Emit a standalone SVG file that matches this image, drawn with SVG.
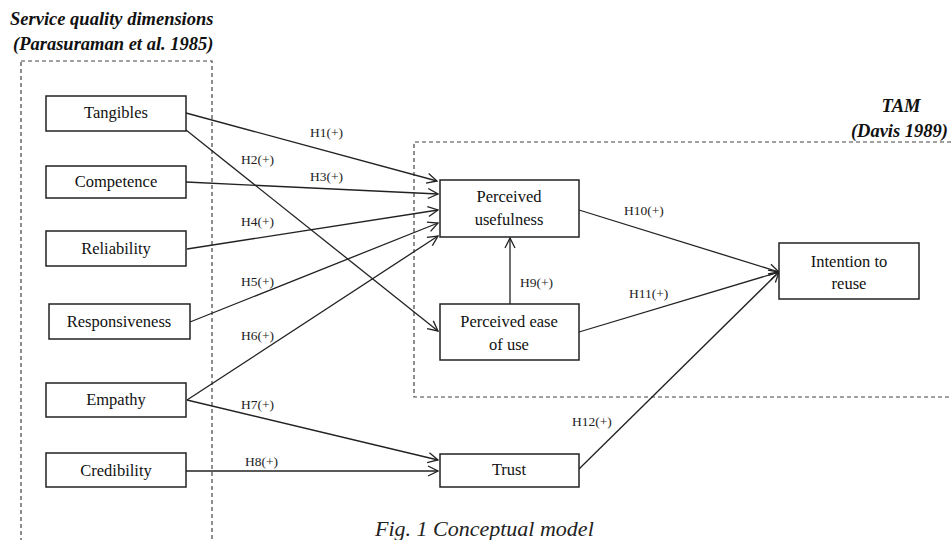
<svg xmlns="http://www.w3.org/2000/svg" width="951" height="540" viewBox="0 0 951 540">
<defs>
<style>
.bg{fill:#fff}
.grp{fill:none;stroke:#444;stroke-width:1.2;stroke-dasharray:4,3}
.box{fill:#fff;stroke:#222;stroke-width:1.5}
.t{font-family:"Liberation Serif","Times New Roman",serif;font-size:16.5px;fill:#111;text-anchor:middle}
.lbl{font-family:"Liberation Serif","Times New Roman",serif;font-size:13.5px;fill:#222}
.hd{font-family:"Liberation Serif","Times New Roman",serif;font-size:18.5px;font-weight:bold;font-style:italic;fill:#111}
.cap{font-family:"Liberation Serif","Times New Roman",serif;font-size:22px;font-style:italic;fill:#222}
.c{fill:none;stroke:#222;stroke-width:1.3;marker-end:url(#ah)}
</style>
<marker id="ah" viewBox="0 0 12 12" refX="11" refY="6" markerWidth="12" markerHeight="12" markerUnits="userSpaceOnUse" orient="auto">
<path d="M1,1 L11,6 L1,11" fill="none" stroke="#222" stroke-width="1.3"/>
</marker>
</defs>
<rect class="bg" x="0" y="0" width="951" height="540"/>

<g id="group-sq">
<rect class="grp" x="21" y="61" width="191" height="480"/>
<text class="hd" x="10" y="25">Service quality dimensions</text>
<text class="hd" x="13" y="50">(Parasuraman et al. 1985)</text>
</g>
<g id="group-tam">
<path class="grp" d="M951,142 L414,142 L414,397 L951,397"/>
<text class="hd" x="901" y="112" text-anchor="middle">TAM</text>
<text class="hd" x="948" y="137" text-anchor="end">(Davis 1989)</text>
</g>

<g id="connectors">
<line class="c" x1="186" y1="113" x2="437" y2="181"/>
<line class="c" x1="186" y1="130" x2="438" y2="331"/>
<line class="c" x1="186" y1="182" x2="438" y2="194"/>
<line class="c" x1="187" y1="249" x2="438" y2="210"/>
<line class="c" x1="190" y1="322" x2="438" y2="223"/>
<line class="c" x1="187" y1="400" x2="438" y2="236"/>
<line class="c" x1="187" y1="400" x2="438" y2="460"/>
<line class="c" x1="186" y1="471" x2="438" y2="471"/>
<line class="c" x1="510" y1="304" x2="510" y2="238"/>
<line class="c" x1="579" y1="210" x2="779" y2="272"/>
<line class="c" x1="579" y1="332" x2="779" y2="272"/>
<line class="c" x1="579" y1="469" x2="779" y2="272"/>
<text class="lbl" x="310" y="137">H1(+)</text>
<text class="lbl" x="241" y="164">H2(+)</text>
<text class="lbl" x="310" y="181">H3(+)</text>
<text class="lbl" x="241" y="226">H4(+)</text>
<text class="lbl" x="241" y="286">H5(+)</text>
<text class="lbl" x="241" y="340">H6(+)</text>
<text class="lbl" x="241" y="409">H7(+)</text>
<text class="lbl" x="245" y="466">H8(+)</text>
<text class="lbl" x="520" y="287">H9(+)</text>
<text class="lbl" x="624" y="215">H10(+)</text>
<text class="lbl" x="629" y="298">H11(+)</text>
<text class="lbl" x="572" y="426">H12(+)</text>
</g>

<g id="tangibles"><rect class="box" x="46" y="96" width="140" height="35"/><text class="t" x="116" y="118">Tangibles</text></g>
<g id="competence"><rect class="box" x="46" y="166" width="140" height="32"/><text class="t" x="116" y="187">Competence</text></g>
<g id="reliability"><rect class="box" x="46" y="231" width="140" height="35"/><text class="t" x="116" y="254">Reliability</text></g>
<g id="responsiveness"><rect class="box" x="49" y="304" width="141" height="35"/><text class="t" x="119" y="327">Responsiveness</text></g>
<g id="empathy"><rect class="box" x="46" y="383" width="140" height="34"/><text class="t" x="116" y="405">Empathy</text></g>
<g id="credibility"><rect class="box" x="46" y="453" width="140" height="34"/><text class="t" x="116" y="476">Credibility</text></g>

<g id="perceived-usefulness"><rect class="box" x="440" y="180" width="139" height="57"/><text class="t" x="509" y="202">Perceived</text><text class="t" x="509" y="225">usefulness</text></g>
<g id="perceived-ease"><rect class="box" x="440" y="304" width="139" height="56"/><text class="t" x="509" y="327">Perceived  ease</text><text class="t" x="509" y="350">of use</text></g>
<g id="intention"><rect class="box" x="779" y="243" width="140" height="56"/><text class="t" x="849" y="267">Intention  to</text><text class="t" x="849" y="289">reuse</text></g>
<g id="trust"><rect class="box" x="440" y="454" width="139" height="33"/><text class="t" x="509" y="475">Trust</text></g>

<text class="cap" x="375" y="536">Fig. 1 Conceptual model</text>
</svg>
